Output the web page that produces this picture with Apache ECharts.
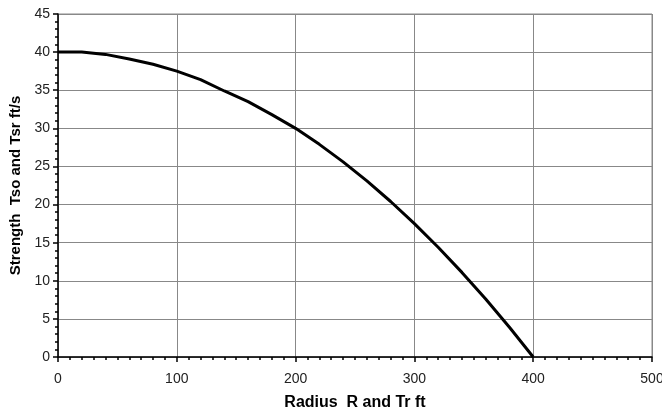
<!DOCTYPE html>
<html>
<head>
<meta charset="utf-8">
<script src="https://cdn.jsdelivr.net/npm/echarts@6/dist/echarts.min.js"></script>
<style>html,body{margin:0;padding:0;background:#fff}#c{width:662px;height:413px}</style>
</head>
<body>
<div id="c"></div>
<script>
var radius = [0, 20, 40, 60, 80, 100, 120, 140, 160, 180, 200, 220, 240, 260, 280, 300, 320, 340, 360, 380, 400];
var strength = [40, 40, 39.7, 39.1, 38.4, 37.5, 36.4, 34.9, 33.5, 31.8, 30, 27.9, 25.6, 23.1, 20.4, 17.5, 14.4, 11.1, 7.6, 3.9, 0];
var xTitle = 'Radius  R and Tr ft';
var yTitle = 'Strength  Tso and Tsr ft/s';

var pts = radius.map(function (r, i) { return [r, strength[i]]; });
var chart = echarts.init(document.getElementById('c'), null, {renderer: 'canvas'});
var font = 'Liberation Sans, Arial, sans-serif';
chart.setOption({
  animation: false,
  backgroundColor: '#fff',
  grid: {left: 58, right: 10, top: 14, bottom: 56, show: true, borderColor: '#888', borderWidth: 1,
         containLabel: false, outerBoundsMode: 'none'},
  xAxis: {
    type: 'value', min: 0, max: 500, interval: 100,
    name: xTitle, nameLocation: 'middle', nameGap: 38,
    nameTextStyle: {fontFamily: font, fontWeight: 'bold', fontSize: 16, color: '#000'},
    axisLine: {show: true, lineStyle: {color: '#000', width: 1.5}},
    axisTick: {show: true, length: 5, lineStyle: {color: '#000', width: 1.5}},
    minorTick: {show: true, splitNumber: 10, length: 3, lineStyle: {color: '#000', width: 1.5}},
    axisLabel: {fontFamily: font, fontSize: 14, color: '#222', margin: 15},
    splitLine: {show: true, lineStyle: {color: '#888', width: 1}}
  },
  yAxis: {
    type: 'value', min: 0, max: 45, interval: 5,
    name: yTitle, nameLocation: 'middle', nameGap: 26,
    nameTextStyle: {fontFamily: font, fontWeight: 'bold', fontSize: 15, color: '#000'},
    axisLine: {show: true, lineStyle: {color: '#000', width: 1.5}},
    axisTick: {show: true, length: 5, lineStyle: {color: '#000', width: 1.5}},
    minorTick: {show: true, splitNumber: 5, length: 3, lineStyle: {color: '#000', width: 1.5}},
    axisLabel: {fontFamily: font, fontSize: 14, color: '#222', margin: 8},
    splitLine: {show: true, lineStyle: {color: '#888', width: 1}}
  },
  series: [{
    type: 'line', data: pts, showSymbol: false, smooth: false,
    lineStyle: {color: '#000', width: 3}
  }]
});
</script>
</body>
</html>
